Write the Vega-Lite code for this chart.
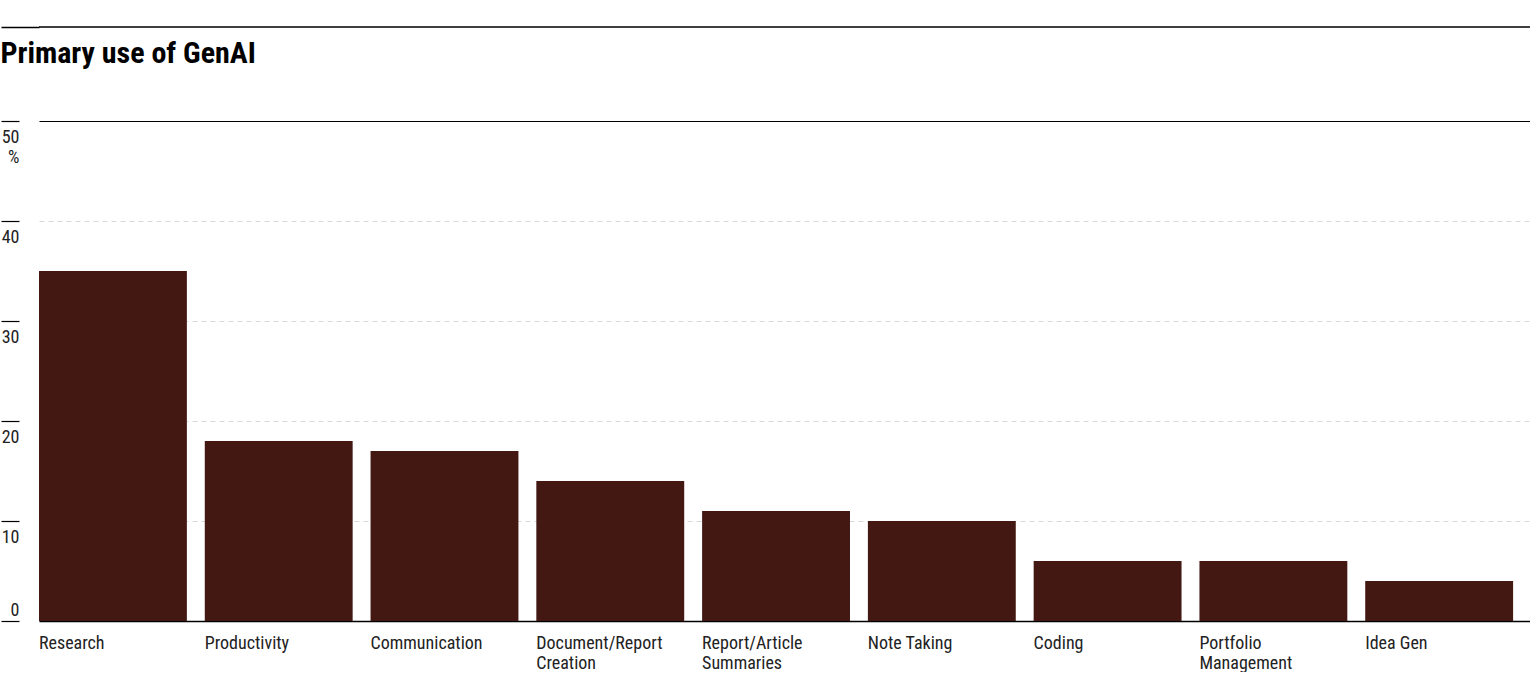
{
  "$schema": "https://vega.github.io/schema/vega-lite/v6.json",
  "padding": 0,
  "background": "white",
  "spacing": 11,
  "config": {
    "view": {"stroke": null},
    "font": "Roboto Condensed, Liberation Sans Narrow, sans-serif"
  },
  "datasets": {
    "uses": [
      {"use": "Research", "pct": 35},
      {"use": "Productivity", "pct": 18},
      {"use": "Communication", "pct": 17},
      {"use": "Document/Report Creation", "pct": 14},
      {"use": "Report/Article Summaries", "pct": 11},
      {"use": "Note Taking", "pct": 10},
      {"use": "Coding", "pct": 6},
      {"use": "Portfolio Management", "pct": 6},
      {"use": "Idea Gen", "pct": 4}
    ]
  },
  "vconcat": [
    {
      "width": 1492,
      "height": 27,
      "data": {"values": [{"line": 0}]},
      "mark": {"type": "rule", "color": "black", "strokeWidth": 1.5},
      "encoding": {
        "y": {
          "field": "line",
          "type": "quantitative",
          "scale": {"domain": [0, 1]},
          "axis": {
            "title": null,
            "values": [0],
            "labels": false,
            "domain": false,
            "tickSize": 38,
            "tickColor": "black",
            "tickWidth": 1.5,
            "grid": false
          }
        }
      }
    },
    {
      "width": 1492,
      "height": 500,
      "title": {
        "text": "Primary use of GenAI",
        "anchor": "start",
        "frame": "bounds",
        "fontSize": 30,
        "fontWeight": "bold",
        "color": "black",
        "offset": 51
      },
      "data": {"name": "uses"},
      "mark": {"type": "bar", "color": "#431712"},
      "encoding": {
        "x": {
          "field": "use",
          "type": "nominal",
          "sort": null,
          "scale": {"paddingInner": 0.108, "paddingOuter": 0.054, "align": 0},
          "axis": {
            "title": null,
            "ticks": false,
            "domainColor": "black",
            "domainWidth": 1.5,
            "labelAngle": 0,
            "labelAlign": "left",
            "labelBaseline": "top",
            "labelPadding": 13,
            "labelOffset": -74,
            "labelFontSize": 18,
            "labelColor": "#222",
            "labelLineHeight": 20,
            "labelLimit": 300,
            "labelExpr": "indexof(['Document/Report Creation','Report/Article Summaries','Portfolio Management'], datum.label) >= 0 ? split(datum.label, ' ') : datum.label"
          }
        },
        "y": {
          "field": "pct",
          "type": "quantitative",
          "scale": {"domain": [0, 50], "nice": false},
          "axis": {
            "title": null,
            "values": [0, 10, 20, 30, 40, 50],
            "offset": 20,
            "domain": false,
            "tickSize": 18,
            "tickColor": "black",
            "tickWidth": 1.2,
            "labelAlign": "right",
            "labelBaseline": "top",
            "labelPadding": -18,
            "labelOffset": {"condition": {"test": "datum.value == 0", "value": -20}, "value": 7},
            "labelFontSize": 18,
            "labelColor": "#222",
            "labelLineHeight": 20,
            "labelExpr": "datum.value == 50 ? ['50', '%'] : datum.label",
            "grid": true,
            "gridColor": {"condition": {"test": "datum.value == 50", "value": "black"}, "value": "#d9d9d9"},
            "gridDash": {"condition": {"test": "datum.value == 50", "value": []}, "value": [5, 4]},
            "gridWidth": {"condition": {"test": "datum.value == 50", "value": 1.2}, "value": 1}
          }
        }
      }
    }
  ]
}
